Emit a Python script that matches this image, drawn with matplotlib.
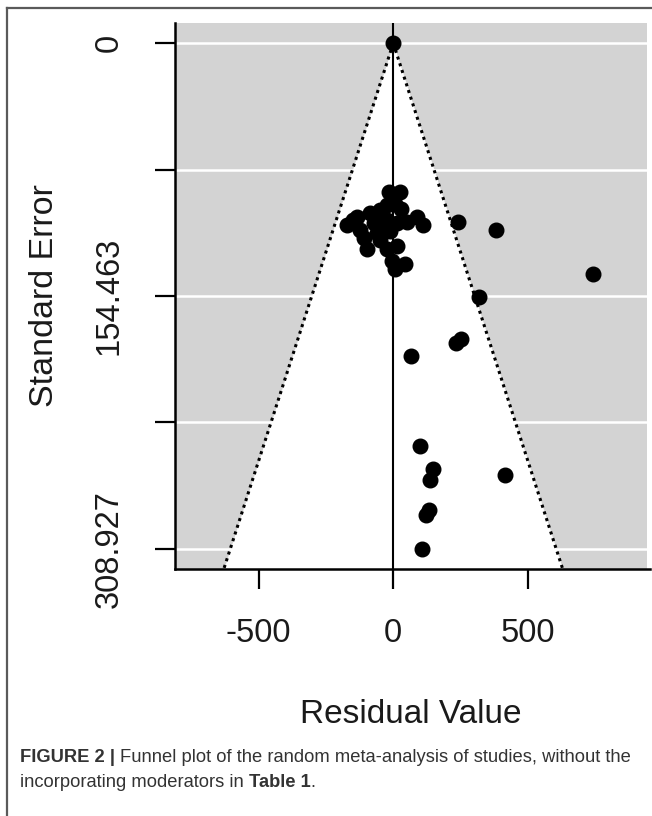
import numpy as np
import matplotlib
matplotlib.use("Agg")
import matplotlib.pyplot as plt
from matplotlib.lines import Line2D

plt.rcParams['font.family'] = ['Liberation Sans', 'DejaVu Sans']

# residuals and standard errors
resid = [0, -17, 26, -23, 7, -48, -85, -135, -172, -122, -73, -23, 14, 51, 88,
         112, -110, -97, -48, -23, 14, -5, 7, 44, -60, -11, -150, -30, 30,
         241, 383, 744, 318, 233, 252, 67, 100, 148, 137, 415, 122, 133, 107]
se = [0, 91, 91, 99, 98, 102, 104, 106, 111, 114, 110, 108, 110, 109, 106,
      111, 119, 126, 120, 126, 124, 133, 138, 135, 116, 115, 108, 112, 101,
      109, 114, 141, 155, 183, 181, 191, 246, 260, 267, 264, 288, 285, 308.927]

se_max = 308.927
y_ticks = [0, 77.232, 154.463, 231.695, 308.927]
y_labels = ['0', '', '154.463', '', '308.927']
x_ticks = [-500, 0, 500]
x_labels = ['-500', '0', '500']

W, H = 652, 816
fig = plt.figure(figsize=(W / 100, H / 100), dpi=100)

# outer frame (top + left lines only)
fig.add_artist(Line2D([7 / W, 1], [1 - 8 / H, 1 - 8 / H], color='#5a5a5a', lw=1.6))
fig.add_artist(Line2D([7 / W, 7 / W], [0, 1 - 8 / H], color='#5a5a5a', lw=1.6))

ax = fig.add_axes([175 / W, 247 / H, 472 / W, 546 / H])
ax.set_xlim(-811, 943)
ylo, yhi = -0.04 * se_max, 1.04 * se_max
ax.set_ylim(yhi, ylo)
ax.set_facecolor('#d3d3d3')

for t in y_ticks:
    ax.axhline(t, color='white', lw=1.8, zorder=1)

# funnel region
se_line = np.array([0, yhi])
ax.fill_betweenx(se_line, -1.96 * se_line, 1.96 * se_line, color='white', lw=0, zorder=2)
ax.plot(-1.96 * se_line, se_line, color='black', ls=(0, (1, 1.3)), lw=2.2, zorder=3)
ax.plot(1.96 * se_line, se_line, color='black', ls=(0, (1, 1.3)), lw=2.2, zorder=3)
ax.axvline(0, color='black', lw=1.5, zorder=3)

ax.plot(resid, se, 'o', color='black', ms=10.5, zorder=4)

for s in ['top', 'right']:
    ax.spines[s].set_visible(False)
for s in ['left', 'bottom']:
    ax.spines[s].set_linewidth(1.8)
    ax.spines[s].set_color('black')
ax.spines['bottom'].set_bounds(-811, 955)
ax.spines['bottom'].set_clip_on(False)

ax.set_yticks(y_ticks)
ax.set_yticklabels(y_labels, rotation=90, va='center')
ax.set_xticks(x_ticks)
ax.set_xticklabels(x_labels)
ax.tick_params(axis='both', length=14.5, width=1.6, labelsize=23.5, colors='black',
               labelcolor='#1a1a1a')
ax.tick_params(axis='y', pad=22)
ax.tick_params(axis='x', pad=21)

ax.set_ylabel('Standard Error', fontsize=24.5, color='#1a1a1a', labelpad=24)
ax.set_xlabel('Residual Value', fontsize=24, color='#1a1a1a', labelpad=36)

# caption
fig.canvas.draw()
r = fig.canvas.get_renderer()
cap = dict(fontsize=13.2, color='#333333', va='baseline')
y1 = 1 - 762 / H
y2 = 1 - 787 / H
t = fig.text(20 / W, y1, 'FIGURE 2 | ', fontweight='bold', **cap)
x = t.get_window_extent(r).x1 / W
fig.text(x, y1, 'Funnel plot of the random meta-analysis of studies, without the', **cap)
t = fig.text(20 / W, y2, 'incorporating moderators in ', **cap)
x = t.get_window_extent(r).x1 / W
t = fig.text(x, y2, 'Table 1', fontweight='bold', **cap)
x = t.get_window_extent(r).x1 / W
fig.text(x, y2, '.', **cap)

fig.savefig('out.png', dpi=100)
